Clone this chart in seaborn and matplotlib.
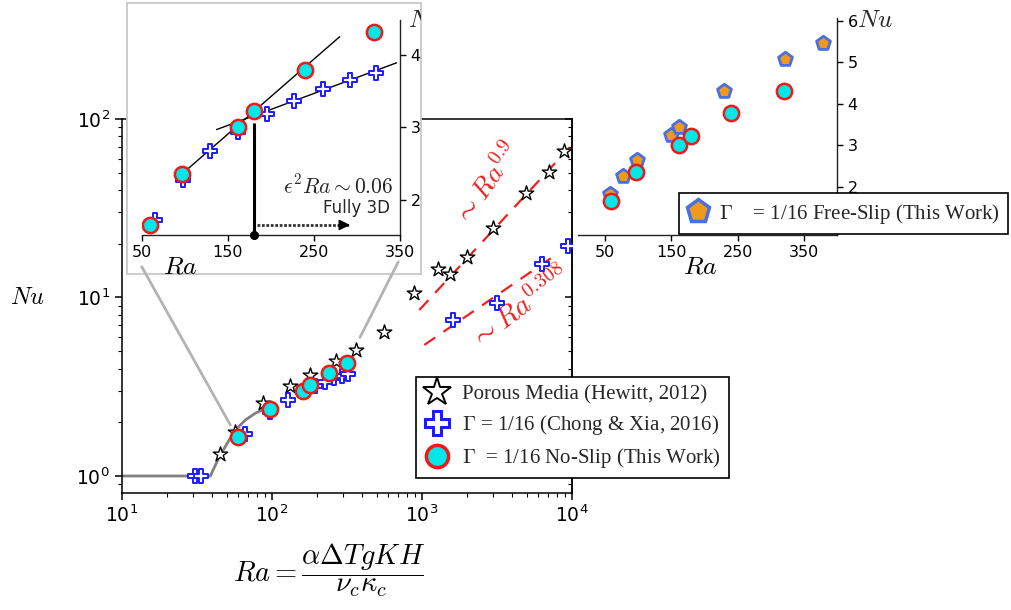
import numpy as np
import matplotlib
matplotlib.use("Agg")
import matplotlib.pyplot as plt
from matplotlib.lines import Line2D
from matplotlib.patches import ConnectionPatch
import seaborn as sns

# ---------------- data ----------------
# Porous media (Hewitt, 2012)
hewitt_ra = [45, 57, 88, 132, 180, 267, 367, 562, 891, 1291, 1553, 1999, 2985, 4990, 7060, 8850]
hewitt_nu = [1.32, 1.77, 2.55, 3.19, 3.68, 4.41, 5.05, 6.37, 10.6, 14.4, 13.5, 16.9, 24.4, 38.7, 50.7, 65.9]

# Gamma = 1/16 (Chong & Xia, 2016)
chong_ra = [31, 34, 66, 98, 129, 162, 195, 227, 260, 292, 322, 1610, 3180, 6380, 9500]
chong_nu = [1.0, 1.0, 1.72, 2.28, 2.68, 2.94, 3.19, 3.37, 3.53, 3.65, 3.75, 7.48, 9.35, 15.4, 19.4]

# Gamma = 1/16 no-slip
noslip_ra = [60, 97, 162, 180, 240, 320]
noslip_nu = [1.66, 2.36, 3.0, 3.23, 3.79, 4.31]

# Gamma = 1/16 free-slip
freeslip_ra = [58, 78, 98, 150, 162, 229, 321, 378]
freeslip_nu = [1.82, 2.26, 2.64, 3.25, 3.45, 4.31, 5.09, 5.47]

# onset curve
onset_ra = [10, 39, 44.3, 50.4, 57.3, 66.8, 78, 88.5]
onset_nu = [1.0, 1.0, 1.26, 1.52, 1.81, 2.06, 2.25, 2.36]

# power-law guides (end points)
guide_hi_ra = [964, 9700]
guide_hi_nu = [8.51, 69.4]
guide_lo_ra = [1040, 8120]
guide_lo_nu = [5.42, 17.7]

# linear fits in the zoomed panel
steep_ra = [97, 280]
steep_nu = [2.36, 4.25]
shallow_ra = [137, 346]
shallow_nu = [2.97, 3.89]

transition_ra = 180
transition_top_nu = 3.06
arrow_ra = [183.5, 292]
arrow_nu = 1.655

zoom_ticks_x = [50, 150, 250, 350]
zoom_ticks_y = [2, 3, 4]
right_ticks_x = [50, 150, 250, 350]
right_ticks_y = [2, 3, 4, 5, 6]

legend_labels = ["Porous Media (Hewitt, 2012)",
                 r"$\Gamma$ = 1/16 (Chong & Xia, 2016)",
                 r"$\Gamma$  = 1/16 No-Slip (This Work)"]
free_label = r"$\Gamma$    = 1/16 Free-Slip (This Work)"

# ---------------- style ----------------
sns.set_theme(style="ticks")
plt.rcParams.update({
    "font.family": ["DejaVu Sans"],
    "mathtext.fontset": "cm",
    "axes.linewidth": 1.1,
    "axes.edgecolor": "black",
    "xtick.color": "black",
    "ytick.color": "black",
    "axes.labelcolor": "black",
})

CYAN = "#00e8e8"
RED = "#f01818"
BLUE = "#1c1cff"
ORANGE = "#f0991c"
ROYAL = "#4a6fe0"
GUIDE = "#ee2020"

W, H = 1011, 610
fig = plt.figure(figsize=(W / 100, H / 100), dpi=100)
fig.patch.set_facecolor("white")


def px_box(x0, y0, x1, y1):
    return [x0 / W, 1 - y1 / H, (x1 - x0) / W, (y1 - y0) / H]


def points(ax, x, y, marker, size, face, edge, lw, z):
    sns.scatterplot(x=x, y=y, ax=ax, marker=marker, s=size ** 2, color=face,
                    edgecolor=edge, linewidth=lw, zorder=z, legend=False)


def stars(ax, x, y):
    points(ax, x, y, "*", 11, "white", "black", 1.0, 3)


def crosses(ax, x, y):
    points(ax, x, y, "P", 10, "white", BLUE, 1.4, 4)


def circles(ax, x, y):
    points(ax, x, y, "o", 11, CYAN, RED, 1.8, 5)


# ---------------- main log-log axes ----------------
ax = fig.add_axes(px_box(121.7, 119, 571.7, 492.7))
ax.set_xscale("log")
ax.set_yscale("log")
sns.lineplot(x=onset_ra, y=onset_nu, ax=ax, color="#808080", lw=2,
             estimator=None, sort=False, zorder=2)
ax.plot(guide_hi_ra, guide_hi_nu, color=GUIDE, lw=1.6, dashes=(6, 4.5), zorder=2)
ax.plot(guide_lo_ra, guide_lo_nu, color=GUIDE, lw=1.6, dashes=(6, 4.5), zorder=2)
stars(ax, hewitt_ra, hewitt_nu)
crosses(ax, chong_ra, chong_nu)
circles(ax, noslip_ra, noslip_nu)

ax.text(2760, 43.2, r"$\sim Ra^{0.9}$", color=GUIDE, fontsize=20, rotation=55,
        ha="center", va="center", rotation_mode="anchor")
ax.text(4550, 8.73, r"$\sim Ra^{0.308}$", color=GUIDE, fontsize=20.5, rotation=37,
        ha="center", va="center", rotation_mode="anchor")

ax.set_xlim(10, 1e4)
ax.set_ylim(0.806, 100)
ax.tick_params(axis="both", which="major", labelsize=13.5, length=5, width=1.1)
ax.tick_params(axis="both", which="minor", length=3, width=0.8)
ax.set_xlabel(r"$Ra = \dfrac{\alpha \Delta T g K H}{\nu_c \kappa_c}$", fontsize=20.5)
ax.xaxis.set_label_coords(0.4607, -0.207)
ax.xaxis.label.set_va("center")
ax.set_ylabel(r"$Nu$", fontsize=17.5, rotation=0, va="center", ha="center")
ax.yaxis.set_label_coords(-0.2093, 0.5245)

# inward ticks along the right edge
sec = ax.secondary_yaxis("right")
sec.tick_params(which="both", direction="in", labelright=False)
sec.tick_params(which="major", length=5, width=1.1)
sec.tick_params(which="minor", length=3, width=0.8)

# ---------------- zoomed linear panel (upper left) ----------------
box = fig.add_axes(px_box(127.3, 2.7, 421.2, 274), zorder=5)
box.set_xticks([])
box.set_yticks([])
box.set_facecolor("white")
for s in box.spines.values():
    s.set_color("#c8c8c8")
    s.set_linewidth(1.3)

ins = fig.add_axes(px_box(141.7, 20, 400, 235), zorder=6)
ins.patch.set_alpha(0)
ins.plot(steep_ra, steep_nu, color="black", lw=1, zorder=2)
ins.plot(shallow_ra, shallow_nu, color="black", lw=1, zorder=2)
crosses(ins, chong_ra[2:11], chong_nu[2:11])
circles(ins, noslip_ra, noslip_nu)
ins.set_xlim(50, 350)
ins.set_ylim(1.517, 4.48)
ins.vlines(transition_ra, 1.517, transition_top_nu, color="black", lw=2.2, zorder=3)
ins.plot([transition_ra], [1.517], "o", color="black", ms=5.5, clip_on=False, zorder=7)
ins.plot(arrow_ra, [arrow_nu, arrow_nu], color="#333333", lw=2, ls=(0, (1, 0.6)), zorder=3)
ins.annotate("", xy=(arrow_ra[1], arrow_nu), xytext=(arrow_ra[1] - 10, arrow_nu),
             arrowprops=dict(arrowstyle="-|>", color="black", lw=1.2,
                             mutation_scale=16, shrinkA=0, shrinkB=0), zorder=4)
ins.text(0.973, 0.2326, r"$\epsilon^2 Ra \sim 0.06$", transform=ins.transAxes,
         fontsize=15.5, ha="right", va="center")
ins.text(0.961, 0.1256, "Fully 3D", transform=ins.transAxes,
         fontsize=12, ha="right", va="center")
ins.spines[["left", "top"]].set_visible(False)
for s in ("bottom", "right"):
    ins.spines[s].set_color("#222222")
    ins.spines[s].set_linewidth(1.0)
ins.yaxis.tick_right()
ins.set_xticks(zoom_ticks_x)
ins.set_yticks(zoom_ticks_y)
ins.tick_params(labelsize=11.5, length=4, width=1)
ins.set_xlabel(r"$Ra$", fontsize=18.5)
ins.xaxis.set_label_coords(0.148, -0.147)
ins.xaxis.label.set_va("center")
nu_zoom = ins.text(1.031, 1.0, r"$Nu$", transform=ins.transAxes, fontsize=18,
                   ha="left", va="center")
nu_zoom.set_clip_on(True)
nu_zoom.set_clip_path(box.patch)

# connectors from the zoom frame down to the main axes
for ra_pt, nu_pt, bx, by in [(53, 1.93, 0.049, 0.027), (388, 5.98, 0.922, 0.045)]:
    con = ConnectionPatch(xyA=(ra_pt, nu_pt), coordsA=ax.transData,
                          xyB=(bx, by), coordsB=box.transAxes,
                          color="#b3b3b3", lw=2, zorder=5.5)
    fig.add_artist(con)

# ---------------- free-slip comparison panel (upper right) ----------------
rin = fig.add_axes(px_box(578, 18.3, 837.3, 235), zorder=6)
rin.patch.set_alpha(0)
points(rin, freeslip_ra, freeslip_nu, "p", 10.5, ORANGE, ROYAL, 2.0, 3)
circles(rin, noslip_ra, noslip_nu)
rin.set_xlim(10, 400)
rin.set_ylim(0.84, 6.06)
rin.spines[["left", "top"]].set_visible(False)
for s in ("bottom", "right"):
    rin.spines[s].set_color("#222222")
    rin.spines[s].set_linewidth(1.0)
rin.yaxis.tick_right()
rin.set_xticks(right_ticks_x)
rin.set_yticks(right_ticks_y)
rin.tick_params(labelsize=11.5, length=4, width=1)
rin.set_xlabel(r"$Ra$", fontsize=18.5)
rin.xaxis.set_label_coords(0.4705, -0.146)
rin.xaxis.label.set_va("center")
rin.text(1.076, 0.992, r"$Nu$", transform=rin.transAxes, fontsize=18,
         ha="left", va="center")

# ---------------- legends ----------------
serif = {"family": "Liberation Serif", "size": 15}
handles = [
    Line2D([], [], ls="none", marker="*", ms=21, mfc="white", mec="black", mew=1.4),
    Line2D([], [], ls="none", marker="P", ms=17, mfc="white", mec=BLUE, mew=2.2),
    Line2D([], [], ls="none", marker="o", ms=16, mfc=CYAN, mec=RED, mew=2.5),
]
leg = fig.legend(handles, legend_labels, loc="upper left",
                 bbox_to_anchor=(416 / W, 1 - 376.7 / H), borderaxespad=0,
                 prop=serif, frameon=True, fancybox=False, edgecolor="black",
                 framealpha=1, handlelength=1.2, handletextpad=0.6,
                 labelspacing=0.42, borderpad=0.4)
leg.get_frame().set_linewidth(1.2)
leg.set_zorder(7)

free_handle = [Line2D([], [], ls="none", marker="p", ms=17, mfc=ORANGE, mec=ROYAL, mew=2.5)]
leg2 = fig.legend(free_handle, [free_label], loc="upper left",
                  bbox_to_anchor=(679 / W, 1 - 193.3 / H), borderaxespad=0,
                  prop=serif, frameon=True, fancybox=False, edgecolor="black",
                  framealpha=1, handlelength=1.0, handletextpad=0.5, borderpad=0.4)
leg2.get_frame().set_linewidth(1.2)
leg2.set_zorder(7)

fig.savefig("out.png", dpi=100, facecolor="white")
